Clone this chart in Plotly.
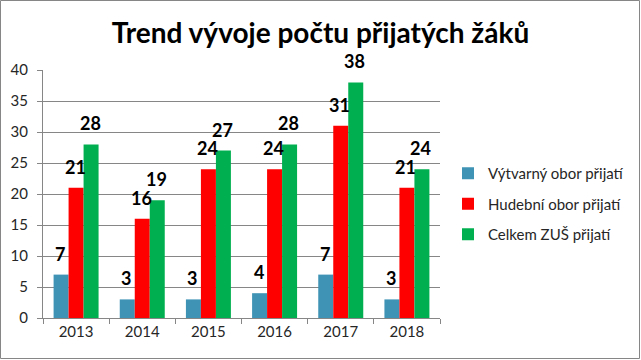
import plotly.graph_objects as go

years = ["2013", "2014", "2015", "2016", "2017", "2018"]
vytvarny = [7, 3, 3, 4, 7, 3]
hudebni = [21, 16, 24, 24, 31, 21]
celkem = [28, 19, 27, 28, 38, 24]
names = ["Výtvarný obor přijatí", "Hudební obor přijatí", "Celkem ZUŠ přijatí"]
colors = ["#3F93B5", "#FF0000", "#00B050"]

W, H = 641, 360
ml, mr, mt, mb = 43, 201, 70, 42
pw, ph = W - ml - mr, H - mt - mb
bar_w = 0.68 / 3  # in category units

fig = go.Figure()
for i, (vals, name, col) in enumerate(zip([vytvarny, hudebni, celkem], names, colors)):
    fig.add_trace(go.Bar(
        x=years, y=vals, name=name, marker_color=col, marker_line_width=0,
        legendgroup=f"g{i}",
    ))
    for j, v in enumerate(vals):
        fig.add_annotation(x=j + (i - 1) * bar_w, y=v, xref="x", yref="y",
                           text=f"<b>{v}</b>", showarrow=False,
                           xshift=-1, yshift=21, yanchor="middle",
                           font=dict(family="Lato", size=18, color="#000000"))

fig.update_layout(
    width=W, height=H,
    margin=dict(l=ml, r=mr, t=mt, b=mb, autoexpand=False),
    paper_bgcolor="white", plot_bgcolor="white",
    barmode="group", bargap=0.32, bargroupgap=0,
    title=dict(text="<b>Trend vývoje počtu přijatých žáků</b>", x=0.5, xanchor="center",
               y=1 - 33 / H, yanchor="middle",
               font=dict(family="Lato", size=28, color="#000000")),
    font=dict(family="Lato", size=15, color="#262626"),
    legend=dict(x=(448 - ml) / pw, y=(mt - 157 + ph) / ph, xanchor="left", yanchor="top",
                font=dict(family="Lato", size=15, color="#262626"),
                traceorder="grouped", tracegroupgap=8,
                itemwidth=30, bgcolor="rgba(0,0,0,0)"),
    xaxis=dict(type="category", range=[-0.5, len(years) - 0.5],
               showline=True, linecolor="#868686", ticks="outside", tickson="boundaries",
               tickcolor="#868686", ticklen=5, showgrid=False, tickangle=0,
               tickfont=dict(family="Lato", size=15, color="#262626")),
    yaxis=dict(range=[0, 40], dtick=5, showline=True, linecolor="#868686", ticks="outside",
               tickcolor="#868686", ticklen=5, gridcolor="#868686", gridwidth=1,
               ticklabelstandoff=6,
               zeroline=False, tickfont=dict(family="Lato", size=15, color="#262626")),
    shapes=[dict(type="rect", xref="paper", yref="paper",
                 x0=(0.5 - ml) / pw, x1=(W - 1.5 - ml) / pw,
                 y0=-(mb - 1.5) / ph, y1=(ph + mt - 0.5) / ph,
                 line=dict(color="#868686", width=1), layer="below")],
)

fig.write_html("out.html", config={"displayModeBar": False},
               post_script="document.body.style.margin='0';")
